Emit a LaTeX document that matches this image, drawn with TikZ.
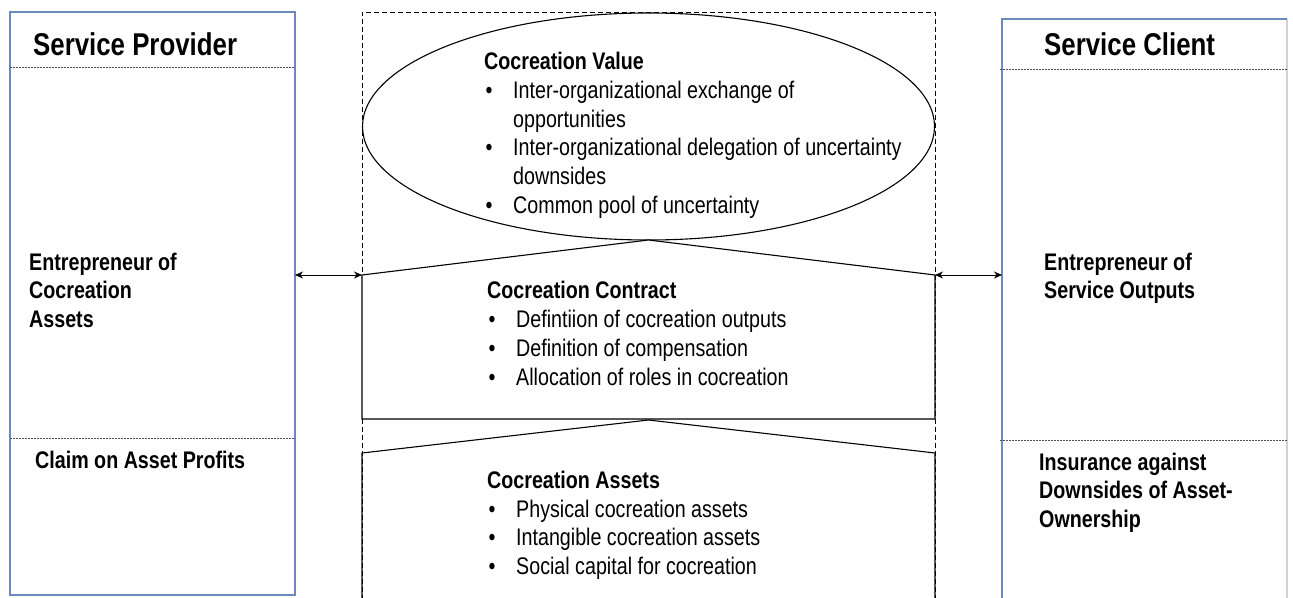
\documentclass[tikz,border=0pt]{standalone}
\usepackage{fontspec}
\setmainfont{Liberation Sans}[FakeStretch=0.82]
\usetikzlibrary{arrows.meta}
\definecolor{boxblue}{RGB}{108,138,190}
\definecolor{boxgrey}{RGB}{205,210,222}
\definecolor{sepgrey}{RGB}{80,80,80}
\begin{document}
\begin{tikzpicture}[x=1pt,y=-1pt,
  txt/.style={anchor=base west, inner sep=0pt, font=\fontsize{24}{29}\selectfont},
  btxt/.style={anchor=base west, inner sep=0pt, font=\fontsize{24}{29}\selectfont\bfseries},
  head/.style={anchor=base west, inner sep=0pt, font=\fontsize{31.5}{38}\selectfont\bfseries},
  bul/.style={anchor=base, inner sep=0pt, font=\fontsize{24}{29}\selectfont},
  sepline/.style={draw=sepgrey, line width=0.9pt, dash pattern=on 1.6pt off 1.4pt},
  blueline/.style={draw=boxblue, line width=1.4pt},
  shapeline/.style={draw=black, line width=1.1pt},
  dashline/.style={draw=black, line width=0.9pt, dash pattern=on 5pt off 3pt},
  dbl/.style={line width=0.8pt, {Stealth[length=8pt,width=7pt]}-{Stealth[length=8pt,width=7pt]}}
]
\useasboundingbox (0,0) rectangle (1293,597);

% outer actor boxes
\draw[blueline] (10,12) rectangle (295,595);
\coordinate (provE) at (295,275);
\draw[boxgrey, line width=1.4pt] (1287,19) -- (1287,600);
\draw[blueline] (1002,600) -- (1002,19) -- (1287,19);
\coordinate (cliW) at (1002,275);
\draw[sepline] (10,67) -- (295,67);
\draw[sepline] (10,438) -- (295,438);
\draw[sepline] (1000,69) -- (1287,69);
\draw[sepline] (1000,440) -- (1287,440);

% central dashed frame
\draw[dashline] (362,600) -- (362,12) -- (935,12) -- (935,600);

% cocreation value ellipse
\draw[shapeline] (648.5,126.5) ellipse [x radius=286, y radius=113.5];

% contract pentagon
\coordinate (cL) at (362,275);
\coordinate (cR) at (935,275);
\draw[shapeline, fill=white] (cL) -- (648.5,240) -- (cR) -- (935,419) -- (362,419) -- cycle;

% assets pentagon
\draw[shapeline] (362,600) -- (362,453) -- (648.5,420) -- (935,453) -- (935,600);

% arrows
\draw[dbl] (provE) -- (cL);
\draw[dbl] (cR) -- (cliW);

% left texts
\node[head] (sp) at (33,55) {Service Provider};
\node[btxt] (ep1) at (29,270) {Entrepreneur of};
\node[btxt] (ep2) at (29,298) {Cocreation};
\node[btxt] (ep3) at (29,327) {Assets};
\node[btxt] (cap) at (35,468) {Claim on Asset Profits};

% right texts
\node[head] (sc) at (1044,55) {Service Client};
\node[btxt] (ec1) at (1044,270) {Entrepreneur of};
\node[btxt] (ec2) at (1044,298) {Service Outputs};
\node[btxt] (in1) at (1039,470) {Insurance against};
\node[btxt] (in2) at (1039,498) {Downsides of Asset-};
\node[btxt] (in3) at (1039,527) {Ownership};

% cocreation value
\node[btxt] (cv) at (484,69) {Cocreation Value};
\node[bul] (cvb1) at (489,98) {•};
\node[txt] (cv1) at (513,98) {Inter-organizational exchange of};
\node[txt] (cv1b) at (513,127) {opportunities};
\node[bul] (cvb2) at (489,155) {•};
\node[txt] (cv2) at (513,155) {Inter-organizational delegation of uncertainty};
\node[txt] (cv2b) at (513,184) {downsides};
\node[bul] (cvb3) at (489,213) {•};
\node[txt] (cv3) at (513,213) {Common pool of uncertainty};

% cocreation contract
\node[btxt] (cc) at (487,298) {Cocreation Contract};
\node[bul] (ccb1) at (492,327) {•};
\node[txt] (cc1) at (516,327) {Defintiion of cocreation outputs};
\node[bul] (ccb2) at (492,356) {•};
\node[txt] (cc2) at (516,356) {Definition of compensation};
\node[bul] (ccb3) at (492,385) {•};
\node[txt] (cc3) at (516,385) {Allocation of roles in cocreation};

% cocreation assets
\node[btxt] (ca) at (487,488) {Cocreation Assets};
\node[bul] (cab1) at (492,517) {•};
\node[txt] (ca1) at (516,517) {Physical cocreation assets};
\node[bul] (cab2) at (492,545) {•};
\node[txt] (ca2) at (516,545) {Intangible cocreation assets};
\node[bul] (cab3) at (492,574) {•};
\node[txt] (ca3) at (516,574) {Social capital for cocreation};
\end{tikzpicture}
\end{document}
